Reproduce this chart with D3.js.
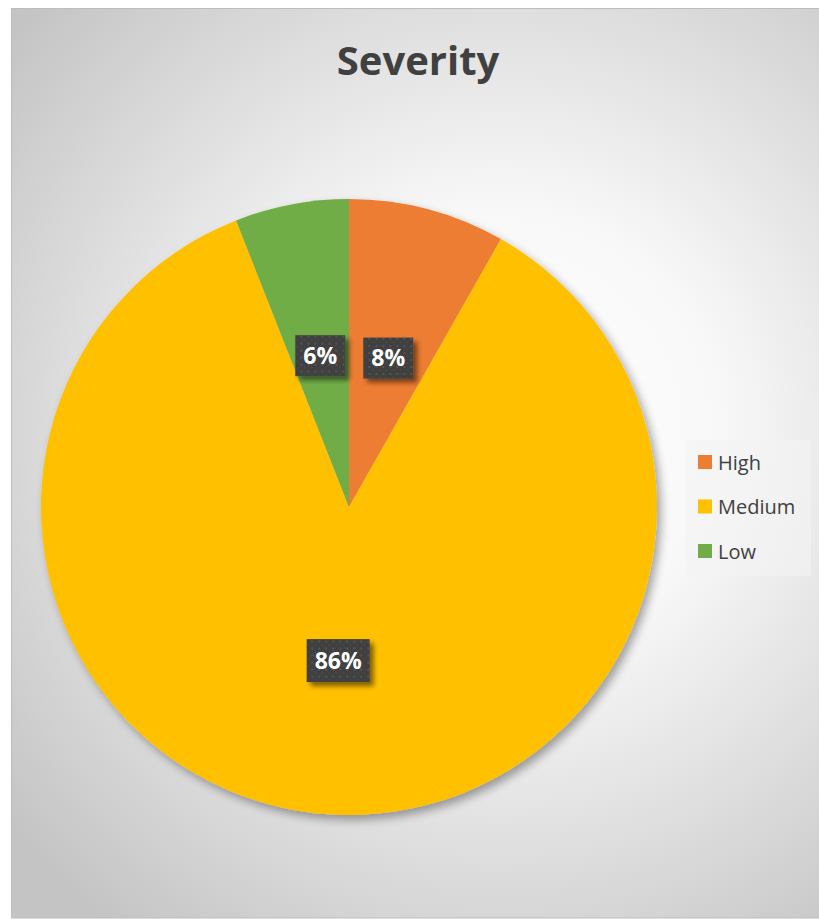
<!DOCTYPE html>
<html><head><meta charset="utf-8">
<script src="https://cdn.jsdelivr.net/npm/d3@7"></script>
<style>html,body{margin:0;padding:0;background:#fff;}svg{display:block;}</style>
</head><body>
<svg id="c" width="819" height="919"></svg>
<script>
const categories = ["High", "Medium", "Low"];
const counts = [11, 115, 8];
const percentLabels = ["8%", "86%", "6%"];
const colors = ["#ED7D31", "#FFC000", "#70AD47"];
const title = "Severity";

const svg = d3.select("#c");
const defs = svg.append("defs");

const rg = defs.append("radialGradient").attr("id", "bg")
  .attr("gradientUnits", "userSpaceOnUse")
  .attr("cx", 500).attr("cy", 430).attr("r", 630);
rg.append("stop").attr("offset", "0").attr("stop-color", "#ffffff");
rg.append("stop").attr("offset", "0.35").attr("stop-color", "#f8f8f8");
rg.append("stop").attr("offset", "1").attr("stop-color", "#c4c4c4");

const sh = defs.append("filter").attr("id", "pieShadow")
  .attr("x", "-20%").attr("y", "-20%").attr("width", "140%").attr("height", "140%");
sh.append("feGaussianBlur").attr("in", "SourceAlpha").attr("stdDeviation", 5).attr("result", "b");
sh.append("feOffset").attr("in", "b").attr("dx", 4).attr("dy", 5).attr("result", "o");
sh.append("feComponentTransfer").attr("in", "o").attr("result", "o2")
  .append("feFuncA").attr("type", "linear").attr("slope", 0.35);
const m1 = sh.append("feMerge");
m1.append("feMergeNode").attr("in", "o2");
m1.append("feMergeNode").attr("in", "SourceGraphic");

const bs = defs.append("filter").attr("id", "boxShadow")
  .attr("x", "-30%").attr("y", "-30%").attr("width", "170%").attr("height", "170%");
bs.append("feGaussianBlur").attr("in", "SourceAlpha").attr("stdDeviation", 2.5).attr("result", "b");
bs.append("feOffset").attr("in", "b").attr("dx", 4).attr("dy", 4).attr("result", "o");
bs.append("feComponentTransfer").attr("in", "o").attr("result", "o2")
  .append("feFuncA").attr("type", "linear").attr("slope", 0.5);
const m2 = bs.append("feMerge");
m2.append("feMergeNode").attr("in", "o2");
m2.append("feMergeNode").attr("in", "SourceGraphic");

const pat = defs.append("pattern").attr("id", "dots")
  .attr("patternUnits", "userSpaceOnUse").attr("width", 7).attr("height", 7);
pat.append("rect").attr("width", 7).attr("height", 7).attr("fill", "#404040");
pat.append("rect").attr("x", 1).attr("y", 1).attr("width", 2).attr("height", 2).attr("fill", "#545454");
pat.append("rect").attr("x", 4.5).attr("y", 4.5).attr("width", 1.5).attr("height", 1.5).attr("fill", "#4b4b4b");

// chart area
svg.append("rect").attr("x", 11.5).attr("y", 8.5).attr("width", 820).attr("height", 909.5)
  .attr("fill", "url(#bg)").attr("stroke", "#bdbdbd").attr("stroke-width", 1);

svg.append("text").attr("x", 418).attr("y", 75).attr("text-anchor", "middle")
  .attr("font-family", "'Open Sans', sans-serif").attr("font-weight", 700)
  .attr("font-size", 40).attr("fill", "#404040").text(title);

const cx = 349, cy = 507, R = 308;
const pie = d3.pie().sort(null).value(d => d)(counts);
const arc = d3.arc().innerRadius(0).outerRadius(R);
const g = svg.append("g").attr("transform", `translate(${cx},${cy})`);
g.append("g").attr("filter", "url(#pieShadow)")
  .selectAll("path").data(pie).join("path")
  .attr("d", arc).attr("fill", (d, i) => colors[i]);

const lab = g.selectAll("g.lab").data(pie).join("g").attr("class", "lab")
  .attr("transform", d => `translate(${arc.centroid(d)})`);
lab.each(function(d, i) {
  const s = d3.select(this);
  const t = percentLabels[i];
  const w = t.length === 3 ? 63 : 50;
  const h = t.length === 3 ? 43 : 41;
  s.append("rect").attr("x", -w / 2).attr("y", -h / 2).attr("width", w).attr("height", h)
    .attr("fill", "url(#dots)").attr("filter", "url(#boxShadow)");
  s.append("text").attr("text-anchor", "middle").attr("y", 8)
    .attr("font-family", "'Open Sans', sans-serif").attr("font-weight", 700)
    .attr("font-size", 23).attr("fill", "#ffffff").text(t);
});

// legend
const lg = svg.append("g");
lg.append("rect").attr("x", 686).attr("y", 440).attr("width", 125).attr("height", 136)
  .attr("fill", "#f4f4f4").attr("opacity", 0.6);
const ly = d3.scalePoint().domain(categories).range([462, 551]);
const li = lg.selectAll("g.li").data(categories).join("g").attr("class", "li")
  .attr("transform", d => `translate(698,${ly(d)})`);
li.append("rect").attr("x", 0).attr("y", -7).attr("width", 14).attr("height", 14)
  .attr("fill", (d, i) => colors[i]);
li.append("text").attr("x", 20).attr("y", 7.5)
  .attr("font-family", "'Open Sans', sans-serif").attr("font-size", 20)
  .attr("fill", "#404040").text(d => d);
</script>
</body></html>
